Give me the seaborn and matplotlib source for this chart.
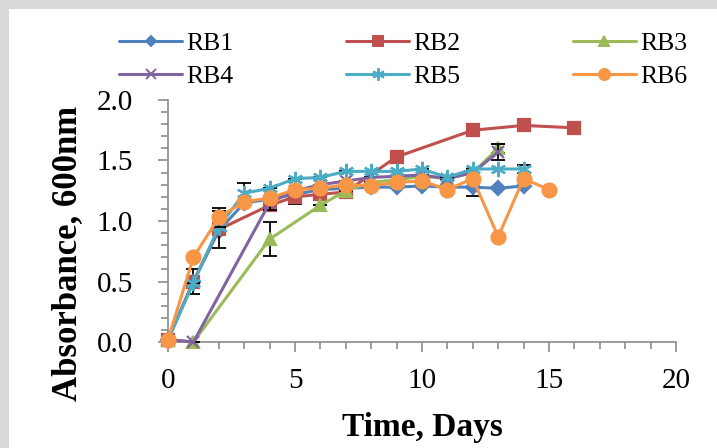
import numpy as np
import pandas as pd
import matplotlib
matplotlib.use("Agg")
import matplotlib.pyplot as plt
import seaborn as sns
from matplotlib.ticker import MultipleLocator
from matplotlib.patches import Rectangle

# series data
series_names = ["RB1", "RB2", "RB3", "RB4", "RB5", "RB6"]

rb1_days = [0, 1, 2, 3, 4, 5, 6, 7, 8, 9, 10, 11, 12, 13, 14]
rb1_vals = [0.02, 0.50, 0.92, 1.15, 1.18, 1.22, 1.26, 1.27, 1.28, 1.28, 1.29, 1.28, 1.28, 1.27, 1.29]
rb1_err = [0, 0.10, 0, 0, 0, 0, 0, 0, 0, 0, 0, 0, 0.07, 0, 0]

rb2_days = [0, 1, 2, 4, 5, 6, 7, 9, 12, 14, 16]
rb2_vals = [0.02, 0.50, 0.93, 1.13, 1.20, 1.22, 1.24, 1.53, 1.75, 1.79, 1.77]
rb2_err = [0, 0, 0.15, 0, 0.06, 0, 0.05, 0, 0, 0, 0]

rb3_days = [0, 1, 4, 6, 7, 8, 9, 10, 11, 12, 13]
rb3_vals = [0.02, 0.00, 0.85, 1.13, 1.25, 1.32, 1.34, 1.37, 1.35, 1.40, 1.60]
rb3_err = [0, 0, 0.14, 0, 0, 0, 0, 0, 0, 0, 0.04]

rb4_days = [0, 1, 4, 5, 6, 7, 8, 9, 10, 11, 12, 13]
rb4_vals = [0.02, 0.00, 1.15, 1.25, 1.30, 1.33, 1.36, 1.37, 1.38, 1.35, 1.40, 1.57]
rb4_err = [0, 0, 0.06, 0, 0, 0, 0, 0, 0, 0, 0, 0.07]

rb5_days = [0, 1, 2, 3, 4, 5, 6, 7, 8, 9, 10, 11, 12, 13, 14]
rb5_vals = [0.02, 0.49, 0.95, 1.23, 1.27, 1.35, 1.36, 1.41, 1.41, 1.41, 1.43, 1.36, 1.43, 1.43, 1.43]
rb5_err = [0, 0, 0, 0.08, 0, 0, 0, 0, 0, 0, 0, 0, 0, 0, 0.03]

rb6_days = [0, 1, 2, 3, 4, 5, 6, 7, 8, 9, 10, 11, 12, 13, 14, 15]
rb6_vals = [0.02, 0.70, 1.03, 1.16, 1.19, 1.26, 1.27, 1.30, 1.29, 1.32, 1.33, 1.26, 1.35, 0.87, 1.35, 1.26]
rb6_err = [0, 0, 0.08, 0, 0, 0, 0, 0, 0, 0, 0, 0, 0, 0, 0, 0]

colors = ["#4F81BD", "#C0504D", "#9BBB59", "#8064A2", "#4BACC6", "#F79646"]
markers = ["D", "s", "^", "x", (6, 2, 0), "o"]
msizes = [7, 9, 9, 9, 11, 10]

rows = []
for name, d, v, e in zip(series_names,
                         [rb1_days, rb2_days, rb3_days, rb4_days, rb5_days, rb6_days],
                         [rb1_vals, rb2_vals, rb3_vals, rb4_vals, rb5_vals, rb6_vals],
                         [rb1_err, rb2_err, rb3_err, rb4_err, rb5_err, rb6_err]):
    for a, b, c in zip(d, v, e):
        rows.append({"series": name, "day": a, "abs": b, "err": c})
df = pd.DataFrame(rows)

sns.set_style("ticks")
plt.rcParams["font.serif"] = ["Liberation Serif", "DejaVu Serif"]
plt.rcParams["font.family"] = ["serif"]
plt.rcParams["text.color"] = "black"

fig = plt.figure(figsize=(7.17, 4.48), dpi=100)
fig.patch.set_facecolor("#d9d9d9")
fig.patches.append(Rectangle((9 / 717, 0), 1.0, 1 - 9 / 448, transform=fig.transFigure,
                             facecolor="white", edgecolor="none", zorder=-5))
ax = fig.add_axes([168 / 717, 1 - 342 / 448, (676 - 168) / 717, (342 - 100) / 448])
ax.set_facecolor("none")

handles = []
for i, name in enumerate(series_names):
    sub = df[df["series"] == name]
    ax.errorbar(sub["day"], sub["abs"], yerr=sub["err"], fmt="none", ecolor="black",
                elinewidth=1.3, capsize=5, capthick=1.3, zorder=2 + i)
    sns.lineplot(data=sub, x="day", y="abs", ax=ax, color=colors[i], marker=markers[i],
                 markersize=msizes[i], markeredgecolor=colors[i], markeredgewidth=1.6,
                 linewidth=2.2, estimator=None, sort=False, zorder=3 + i, clip_on=False)
    h, = ax.plot([], [], color=colors[i], marker=markers[i], markersize=msizes[i] - 2,
                 markeredgecolor=colors[i], markeredgewidth=1.4, linewidth=2.2)
    handles.append(h)

ax.set_xlim(0, 20)
ax.set_ylim(0, 2.0)
ax.xaxis.set_major_locator(MultipleLocator(5))
ax.xaxis.set_minor_locator(MultipleLocator(1))
ax.yaxis.set_major_locator(MultipleLocator(0.5))
ax.yaxis.set_minor_locator(MultipleLocator(0.1))
ax.yaxis.set_major_formatter(matplotlib.ticker.FormatStrFormatter("%.1f"))

for s in ["top", "right"]:
    ax.spines[s].set_visible(False)
for s in ["left", "bottom"]:
    ax.spines[s].set_color("#8c8c8c")
    ax.spines[s].set_linewidth(1.2)
ax.tick_params(which="major", length=7, width=1.2, color="#8c8c8c", labelsize=21,
               labelcolor="black", direction="out")
ax.tick_params(which="minor", length=5, width=1.2, color="#8c8c8c", direction="out")
ax.tick_params(axis="x", which="major", pad=12)
ax.tick_params(axis="y", which="major", pad=18)

ax.set_xlabel("Time, Days", fontsize=24, fontweight="bold", labelpad=13, color="black")
ax.set_ylabel("Absorbance, 600nm", fontsize=25, fontweight="bold", color="black")
ax.yaxis.set_label_coords(-0.165, 0.368)

order = [0, 3, 1, 4, 2, 5]
fig.legend([handles[k] for k in order], [series_names[k] for k in order],
           loc="center", bbox_to_anchor=(403 / 717, 1 - 60 / 448), ncol=3, frameon=False,
           fontsize=18.5, handlelength=2.45, handletextpad=0.15, columnspacing=4.4,
           labelspacing=0.4)

fig.savefig("out.png", dpi=100)
